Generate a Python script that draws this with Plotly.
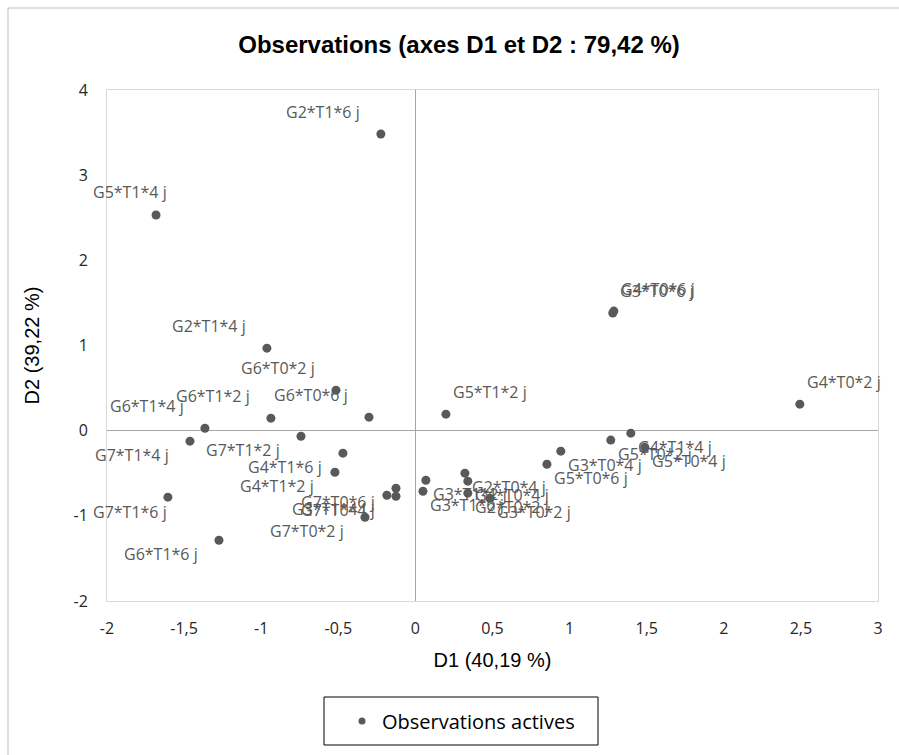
import plotly.graph_objects as go

# ---------------- data ----------------
obs_labels = [
    "G2*T1*6 j", "G5*T1*4 j", "G2*T1*4 j", "G6*T0*2 j", "G6*T0*6 j", "G6*T1*2 j",
    "G6*T1*4 j", "G7*T1*4 j", "G7*T1*2 j", "G4*T1*6 j", "G4*T1*2 j", "G7*T1*6 j",
    "G6*T1*6 j", "G7*T0*2 j", "G7*T0*6 j", "G3*T1*4 j", "G7*T0*4 j", "G5*T1*2 j",
    "G3*T1*2 j", "G3*T1*6 j", "G2*T0*4 j", "G4*T0*4 j", "G2*T0*2 j", "G3*T0*2 j",
    "G5*T0*6 j", "G3*T0*4 j", "G5*T0*2 j", "G4*T1*4 j", "G5*T0*4 j", "G3*T0*6 j",
    "G4*T0*6 j", "G4*T0*2 j",
]
d1 = [
    -0.224, -1.682, -0.963, -0.515, -0.301, -0.937,
    -1.365, -1.462, -0.742, -0.470, -0.522, -1.605,
    -1.274, -0.327, -0.126, -0.185, -0.126, 0.198,
    0.068, 0.049, 0.321, 0.340, 0.340, 0.483,
    0.853, 0.943, 1.267, 1.397, 1.488, 1.280,
    1.287, 2.493,
]
d2 = [
    3.484, 2.532, 0.969, 0.476, 0.159, 0.147,
    0.029, -0.123, -0.065, -0.264, -0.488, -0.781,
    -1.287, -1.016, -0.676, -0.758, -0.770, 0.194,
    -0.582, -0.711, -0.499, -0.593, -0.734, -0.793,
    -0.394, -0.241, -0.111, -0.029, -0.194, 1.381,
    1.404, 0.311,
]
x_tickvals = [-2, -1.5, -1, -0.5, 0, 0.5, 1, 1.5, 2, 2.5, 3]
x_ticktext = ["-2", "-1,5", "-1", "-0,5", "0", "0,5", "1", "1,5", "2", "2,5", "3"]
y_tickvals = [-2, -1, 0, 1, 2, 3, 4]
y_ticktext = ["-2", "-1", "0", "1", "2", "3", "4"]

# ---------------- label placement (style) ----------------
# al = above-left, bl = below-left, ar = above-right, br = below-right
label_side = [
    "al", "al", "al", "al", "al", "al",
    "al", "bl", "bl", "bl", "bl", "bl",
    "bl", "bl", "bl", "bl", "bl", "ar",
    "br", "br", "br", "br", "br", "br",
    "br", "br", "br", "br", "br", "ar",
    "ar", "ar",
]
side_shift = {"al": (-58, 22), "bl": (-58, -14), "ar": (44, 22), "br": (44, -14)}
shift_override = {"G5*T1*4 j": (-26, 23), "G7*T1*6 j": (-38, -15)}

POINT = "#595959"
LABEL = "#595959"
LABEL_FONT = "Open Sans"

# plot-area geometry in pixels (for paper-coordinate decorations)
L, R, T, B = 107, 878, 90, 601
PW, PH = R - L, B - T


def px_x(p):
    return (p - L) / PW


def px_y(p):
    return (B - p) / PH


fig = go.Figure()
fig.add_trace(go.Scatter(
    x=d1, y=d2, mode="markers", name="Observations actives", showlegend=False,
    marker=dict(color=POINT, size=9, line=dict(width=0)),
    hoverinfo="text", text=obs_labels,
))
# legend entry with a smaller symbol, like the reference legend
fig.add_trace(go.Scatter(
    x=[None], y=[None], mode="markers", name="Observations actives", showlegend=True,
    marker=dict(color=POINT, size=7, line=dict(width=0)),
))

annotations = []
for lab, xv, yv, side in zip(obs_labels, d1, d2, label_side):
    dx, dy = shift_override.get(lab, side_shift[side])
    annotations.append(dict(
        x=xv, y=yv, xref="x", yref="y", text=lab, showarrow=False,
        xshift=dx, yshift=dy, xanchor="center", yanchor="middle",
        font=dict(family=LABEL_FONT, size=16, color=LABEL),
    ))

tick_font = dict(family=LABEL_FONT, size=16, color="#262626")
axis_title_font = dict(family="Liberation Sans", size=20, color="#000000")
fig.update_layout(
    width=899, height=755,
    margin=dict(l=L, r=899 - R, t=T, b=755 - B),
    paper_bgcolor="white", plot_bgcolor="white",
    title=dict(
        text="<b>Observations (axes D1 et D2 : 79,42 %)</b>",
        x=459 / 899, xanchor="center", y=1 - 45 / 755, yanchor="middle",
        font=dict(family="Liberation Sans", size=24, color="#000000"),
    ),
    showlegend=True,
    legend=dict(
        orientation="h", x=px_x(461), xanchor="center", y=px_y(721), yanchor="middle",
        borderwidth=0, bgcolor="rgba(0,0,0,0)",
        font=dict(family=LABEL_FONT, size=20, color="#000000"),
    ),
    xaxis=dict(
        range=[-2, 3], tickvals=x_tickvals, ticktext=x_ticktext,
        showgrid=False, zeroline=True, zerolinecolor="#a6a6a6", zerolinewidth=1,
        showline=True, linecolor="#d9d9d9", linewidth=1, mirror=True,
        ticks="", tickfont=tick_font, ticklabelstandoff=13,
        title=dict(text="D1 (40,19 %)", font=axis_title_font, standoff=14),
        fixedrange=True,
    ),
    yaxis=dict(
        range=[-2, 4], tickvals=y_tickvals, ticktext=y_ticktext,
        showgrid=False, zeroline=True, zerolinecolor="#a6a6a6", zerolinewidth=1,
        showline=True, linecolor="#d9d9d9", linewidth=1, mirror=True,
        ticks="", tickfont=tick_font, ticklabelstandoff=15,
        title=dict(text="D2 (39,22 %)", font=axis_title_font, standoff=28),
        fixedrange=True,
    ),
    yaxis2=dict(
        overlaying="y", matches="y", anchor="free", position=px_x(415.5), side="left",
        tickvals=y_tickvals, showticklabels=False, ticks="outside", ticklen=4,
        tickcolor="#a6a6a6", showgrid=False, zeroline=False, showline=False,
    ),
    yaxis3=dict(
        overlaying="y", matches="y", anchor="free", position=px_x(415.5), side="right",
        tickvals=y_tickvals, showticklabels=False, ticks="outside", ticklen=4,
        tickcolor="#a6a6a6", showgrid=False, zeroline=False, showline=False,
    ),
    annotations=annotations,
    shapes=[
        dict(
            type="rect", xref="paper", yref="paper",
            x0=px_x(8), x1=px_x(960), y0=px_y(800), y1=px_y(8),
            line=dict(color="#bfbfbf", width=1), fillcolor="rgba(0,0,0,0)", layer="below",
        ),
        dict(
            type="rect", xref="paper", yref="paper",
            x0=px_x(324), x1=px_x(598), y0=px_y(745), y1=px_y(697),
            line=dict(color="#000000", width=1), fillcolor="rgba(0,0,0,0)", layer="above",
        ),
    ],
)

fig.write_html("out.html")
